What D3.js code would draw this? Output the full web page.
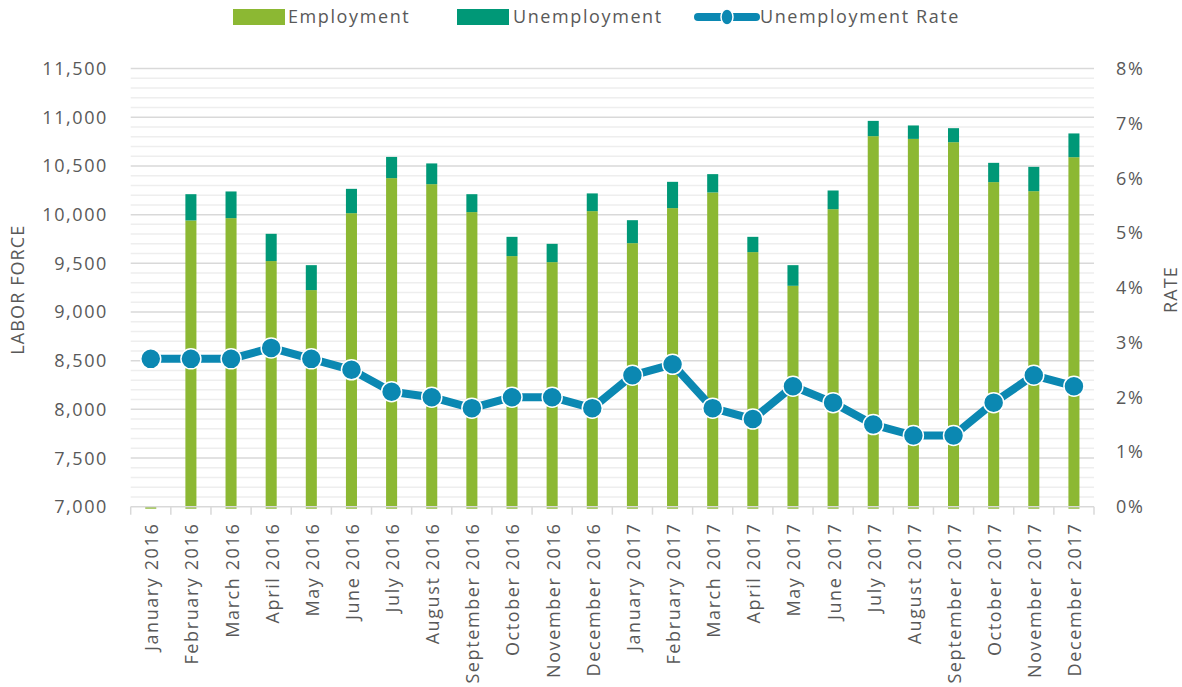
<!DOCTYPE html>
<html>
<head>
<meta charset="utf-8">
<script src="https://cdn.jsdelivr.net/npm/d3@7"></script>
<style>
  html, body { margin: 0; padding: 0; background: #fff; }
  svg { display: block; }
  text { font-family: "Open Sans", sans-serif; fill: #595959; font-size: 18px; letter-spacing: 1.6px; }
</style>
</head>
<body>
<svg id="chart" width="1182" height="687"></svg>
<script>
// Monthly labor force, split into employed and unemployed, with the unemployment rate (%)
const months = [
  "January 2016", "February 2016", "March 2016", "April 2016", "May 2016", "June 2016",
  "July 2016", "August 2016", "September 2016", "October 2016", "November 2016", "December 2016",
  "January 2017", "February 2017", "March 2017", "April 2017", "May 2017", "June 2017",
  "July 2017", "August 2017", "September 2017", "October 2017", "November 2017", "December 2017"
];
const employment = [
  0, 9940, 9964, 9523, 9225, 10015, 10375, 10313, 10026, 9574, 9512, 10036,
  9707, 10067, 10228, 9615, 9269, 10056, 10806, 10778, 10744, 10334, 10241, 10590
];
const unemployment = [
  0, 270, 274, 280, 256, 250, 218, 213, 184, 198, 188, 182,
  236, 270, 188, 157, 212, 192, 157, 138, 144, 198, 250, 244
];
const unemploymentRate = [
  2.7, 2.7, 2.7, 2.9, 2.7, 2.5, 2.1, 2.0, 1.8, 2.0, 2.0, 1.8,
  2.4, 2.6, 1.8, 1.6, 2.2, 1.9, 1.5, 1.3, 1.3, 1.9, 2.4, 2.2
];
const laborTicks = [7000, 7500, 8000, 8500, 9000, 9500, 10000, 10500, 11000, 11500];
const rateTicks = [0, 1, 2, 3, 4, 5, 6, 7, 8];

const colors = { employment: "#8CB833", unemployment: "#009877", rate: "#0B88B2" };

const svg = d3.select("#chart");
const plot = { left: 130.7, right: 1094, top: 68.6, bottom: 506.7 };

const x = d3.scaleBand().domain(months).range([plot.left, plot.right]).paddingInner(0.725).paddingOuter(0.3625);
const yL = d3.scaleLinear().domain([7000, 11500]).range([plot.bottom, plot.top]).clamp(true);
const yR = d3.scaleLinear().domain([0, 8]).range([plot.bottom, plot.top]);

// minor gridlines every 100
const minor = d3.range(7100, 11500, 100).filter(v => v % 500 !== 0);
svg.append("g").selectAll("line").data(minor).join("line")
  .attr("x1", plot.left).attr("x2", plot.right)
  .attr("y1", d => yL(d)).attr("y2", d => yL(d))
  .attr("stroke", "#eeeeee").attr("stroke-width", 1.5);

// major gridlines
svg.append("g").selectAll("line").data(laborTicks.filter(v => v > 7000)).join("line")
  .attr("x1", plot.left).attr("x2", plot.right)
  .attr("y1", d => yL(d)).attr("y2", d => yL(d))
  .attr("stroke", "#d9d9d9").attr("stroke-width", 1.5);

// stacked bars
const bars = svg.append("g");
months.forEach((m, i) => {
  const base = yL.range()[0];
  const eTop = yL(employment[i]);
  const uTop = yL(employment[i] + unemployment[i]);
  bars.append("rect")
    .attr("x", x(m)).attr("width", x.bandwidth())
    .attr("y", eTop).attr("height", base - eTop + 2)
    .attr("fill", colors.employment);
  if (unemployment[i] > 0) {
    bars.append("rect")
      .attr("x", x(m)).attr("width", x.bandwidth())
      .attr("y", uTop).attr("height", eTop - uTop)
      .attr("fill", colors.unemployment);
  }
});

// x axis line and category ticks
svg.append("line")
  .attr("x1", plot.left).attr("x2", plot.right)
  .attr("y1", plot.bottom).attr("y2", plot.bottom)
  .attr("stroke", "#d9d9d9").attr("stroke-width", 1.5);
svg.append("g").selectAll("line").data(d3.range(months.length + 1)).join("line")
  .attr("x1", i => plot.left + i * (plot.right - plot.left) / months.length)
  .attr("x2", i => plot.left + i * (plot.right - plot.left) / months.length)
  .attr("y1", plot.bottom).attr("y2", plot.bottom + 8)
  .attr("stroke", "#d9d9d9").attr("stroke-width", 1.5);

// x labels
svg.append("g").selectAll("text").data(months).join("text")
  .attr("transform", d => `translate(${x(d) + x.bandwidth() / 2 + 1},${plot.bottom + 16}) rotate(-90)`)
  .attr("text-anchor", "end").attr("dy", "0.36em")
  .text(d => d);

// left axis labels
const fmt = d3.format(",");
svg.append("g").selectAll("text").data(laborTicks).join("text")
  .attr("x", 108).attr("y", d => yL(d)).attr("dy", "0.36em")
  .attr("text-anchor", "end")
  .text(d => fmt(d));

// right axis labels
svg.append("g").selectAll("text").data(rateTicks).join("text")
  .attr("x", 1116).attr("y", d => yR(d)).attr("dy", "0.36em")
  .attr("text-anchor", "start")
  .text(d => d + "%");

// axis titles
svg.append("text")
  .attr("transform", `translate(24,${(plot.top + plot.bottom) / 2 + 2}) rotate(-90)`)
  .attr("text-anchor", "middle")
  .style("letter-spacing", "1.1px")
  .text("LABOR FORCE");
svg.append("text")
  .attr("transform", `translate(1177,${(plot.top + plot.bottom) / 2 + 2}) rotate(-90)`)
  .attr("text-anchor", "middle")
  .style("letter-spacing", "1.1px")
  .text("RATE");

// unemployment rate line with markers
const cx = (d, i) => x(months[i]) + x.bandwidth() / 2;
const line = d3.line().x(cx).y(d => yR(d));
svg.append("path")
  .datum(unemploymentRate)
  .attr("d", line)
  .attr("fill", "none").attr("stroke", colors.rate).attr("stroke-width", 8)
  .attr("stroke-linejoin", "round");
svg.append("g").selectAll("circle").data(unemploymentRate).join("circle")
  .attr("cx", cx).attr("cy", d => yR(d)).attr("r", 10)
  .attr("fill", colors.rate).attr("stroke", "#fff").attr("stroke-width", 1.5);

// legend
const legend = svg.append("g");
const lgY = 17;
legend.append("rect").attr("x", 233).attr("y", lgY - 8).attr("width", 52).attr("height", 16).attr("fill", colors.employment);
legend.append("text").attr("x", 288).attr("y", lgY).attr("dy", "0.36em").text("Employment");
legend.append("rect").attr("x", 457).attr("y", lgY - 8).attr("width", 52).attr("height", 16).attr("fill", colors.unemployment);
legend.append("text").attr("x", 513).attr("y", lgY).attr("dy", "0.36em").text("Unemployment");
legend.append("line").attr("x1", 698).attr("x2", 756).attr("y1", lgY).attr("y2", lgY)
  .attr("stroke", colors.rate).attr("stroke-width", 8).attr("stroke-linecap", "round");
legend.append("ellipse").attr("cx", 727).attr("cy", lgY).attr("rx", 6).attr("ry", 8)
  .attr("fill", colors.rate).attr("stroke", "#fff").attr("stroke-width", 1.5);
legend.append("text").attr("x", 760).attr("y", lgY).attr("dy", "0.36em").text("Unemployment Rate");
</script>
</body>
</html>
